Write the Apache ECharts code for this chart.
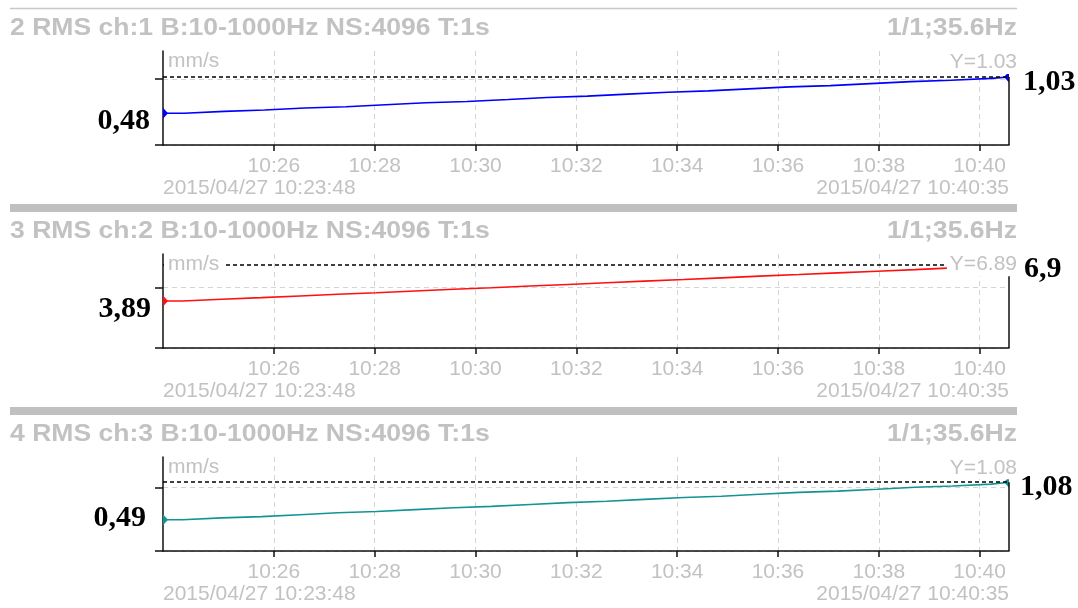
<!DOCTYPE html>
<html>
<head>
<meta charset="utf-8">
<title>RMS trend</title>
<script src="https://cdn.jsdelivr.net/npm/echarts@6/dist/echarts.min.js"></script>
<style>
  html, body { margin: 0; padding: 0; background: #ffffff; }
  #chart { width: 1078px; height: 608px; }
</style>
</head>
<body>
<div id="chart"></div>
<script>
// ---- data -------------------------------------------------------------
const recordDay = '2015/04/27';
const startTime = '10:23:48';
const endTime = '10:40:35';
const tickTimes = ['10:26', '10:28', '10:30', '10:32', '10:34', '10:36', '10:38', '10:40'];

const panelTitles = [
  '2 RMS ch:1 B:10-1000Hz NS:4096 T:1s',
  '3 RMS ch:2 B:10-1000Hz NS:4096 T:1s',
  '4 RMS ch:3 B:10-1000Hz NS:4096 T:1s'
];
const cursorInfo = '1/1;35.6Hz';
const unitName = 'mm/s';

const yTicks = [[0, 1], [0, 5], [0, 1]];
const yMax = [1.424, 7.77, 1.476];

// channel 1 (blue)
const times1 = ['10:23:48', '10:24:13', '10:25:01', '10:25:49', '10:26:37', '10:27:26', '10:28:13', '10:29:01',
  '10:29:50', '10:30:39', '10:31:25', '10:32:13', '10:33:01', '10:33:49', '10:34:37', '10:35:25', '10:36:14',
  '10:37:02', '10:37:50', '10:38:38', '10:39:26', '10:40:14', '10:40:35'];
const values1 = [0.48, 0.51, 0.53, 0.56, 0.58, 0.61, 0.64, 0.66, 0.69, 0.72, 0.74, 0.77, 0.80, 0.82, 0.85,
  0.88, 0.90, 0.93, 0.96, 0.98, 1.01, 1.03, 1.03];

// channel 2 (red)
const times2 = ['10:23:48', '10:24:11', '10:24:58', '10:25:45', '10:26:31', '10:27:16', '10:28:02', '10:28:48',
  '10:29:34', '10:30:19', '10:31:05', '10:31:50', '10:32:36', '10:33:21', '10:34:08', '10:34:53', '10:35:38',
  '10:36:25', '10:37:11', '10:37:58', '10:38:43', '10:39:28', '10:40:14', '10:40:35'];
const values2 = [3.89, 4.03, 4.16, 4.30, 4.44, 4.57, 4.71, 4.85, 4.98, 5.12, 5.25, 5.39, 5.53, 5.66, 5.80,
  5.94, 6.07, 6.21, 6.35, 6.48, 6.62, 6.75, 6.89, 6.89];

// channel 3 (teal)
const times3 = ['10:23:48', '10:24:11', '10:24:58', '10:25:45', '10:26:31', '10:27:16', '10:28:02', '10:28:48',
  '10:29:34', '10:30:19', '10:31:05', '10:31:50', '10:32:36', '10:33:21', '10:34:08', '10:34:53', '10:35:38',
  '10:36:25', '10:37:11', '10:37:58', '10:38:43', '10:39:28', '10:40:14', '10:40:35'];
const values3 = [0.49, 0.52, 0.54, 0.57, 0.60, 0.62, 0.65, 0.68, 0.70, 0.73, 0.76, 0.78, 0.81, 0.84, 0.86,
  0.89, 0.92, 0.94, 0.97, 1.00, 1.02, 1.05, 1.08, 1.08];

const startNotes = ['0,48', '3,89', '0,49'];
const endNotes = ['1,03', '6,9', '1,08'];

// ---- layout & style -----------------------------------------------------
const channels = [
  { times: times1, values: values1, color: '#0000ff' },
  { times: times2, values: values2, color: '#ff1010' },
  { times: times3, values: values3, color: '#139494' }
];
const PANEL_STEP = 203;
const GRID_TOP = 51;
const GRID_H = 94;
const GRID_LEFT = 163;
const GRID_RIGHT = 69;
const GRAY = '#c2c2c2';
const SANS = '"Liberation Sans", Arial, sans-serif';
const SERIF = '"Liberation Serif", "Times New Roman", serif';
const leftNoteDist = [13, 12, 17];
const leftNoteDy = [8, 8, -2];
const rightNoteDist = [14, 15, 11];
const rightNoteDy = [5, 5, 5];

// clock time on the recording day -> milliseconds (local time)
function ts(hmsText) {
  const p = hmsText.split(':').map(Number);
  return new Date(2015, 3, 27, p[0], p[1], p[2] || 0).getTime();
}
function pad(n) { return String(n).padStart(2, '0'); }
function hm(v) { const d = new Date(v); return pad(d.getHours()) + ':' + pad(d.getMinutes()); }
function hms(v) { const d = new Date(v); return hm(v) + ':' + pad(d.getSeconds()); }

const tMin = ts(startTime);
const tMax = ts(endTime);
const tickValues = tickTimes.map(ts);

const grids = [], xAxes = [], yAxes = [], series = [], graphics = [];

graphics.push({
  type: 'line', z: 100,
  shape: { x1: 10, y1: 8.5, x2: 1017, y2: 8.5 },
  style: { stroke: '#c8c8c8', lineWidth: 1.5 }
});

channels.forEach((ch, i) => {
  const off = i * PANEL_STEP;
  grids.push({ left: GRID_LEFT, right: GRID_RIGHT, top: GRID_TOP + off, height: GRID_H });

  const axisLineStyle = { color: '#111', width: 1.5 };

  // clock axis with ticks and vertical grid
  xAxes.push({
    gridIndex: i, type: 'value', min: tMin, max: tMax, scale: true,
    axisLine: { show: true, onZero: false, lineStyle: axisLineStyle },
    axisTick: { show: true, length: 6, inside: false, customValues: tickValues, lineStyle: axisLineStyle },
    axisLabel: {
      show: true, customValues: tickValues, formatter: (v) => hm(v),
      color: GRAY, fontSize: 21, fontFamily: SANS, margin: 11
    },
    splitLine: { show: true, lineStyle: { color: '#d4d4d4', type: [5, 4], width: 1 } }
  });
  // date stamps of the first and last sample
  xAxes.push({
    gridIndex: i, type: 'value', min: tMin, max: tMax, scale: true, position: 'bottom',
    axisLine: { show: false, onZero: false }, axisTick: { show: false }, splitLine: { show: false },
    axisLabel: {
      show: true, customValues: [tMin, tMax],
      formatter: (v) => recordDay + ' ' + hms(v),
      alignMinLabel: 'left', alignMaxLabel: 'right',
      color: GRAY, fontSize: 21, fontFamily: SANS, margin: 33
    }
  });

  yAxes.push({
    gridIndex: i, type: 'value', min: 0, max: yMax[i],
    axisLine: { show: true, onZero: false, lineStyle: axisLineStyle },
    axisTick: { show: true, length: 8, inside: false, customValues: yTicks[i], lineStyle: axisLineStyle },
    axisLabel: { show: false },
    splitLine: { show: true, lineStyle: { color: '#d4d4d4', type: [5, 4], width: 1 } }
  });

  const n = ch.times.length;
  const lastVal = ch.values[n - 1];
  const data = ch.times.map((t, k) => {
    const item = { value: [ts(t), ch.values[k]] };
    if (k === 0 || k === n - 1) {
      const first = k === 0;
      item.symbol = first ? 'path://M0,0L10,5L0,10Z' : 'path://M10,0L0,5L10,10Z';
      item.symbolSize = [5, 11];
      item.symbolOffset = [first ? 2.5 : -2.5, 0];
      item.label = {
        show: true,
        position: first ? 'left' : 'right',
        distance: first ? leftNoteDist[i] : rightNoteDist[i],
        offset: [0, first ? leftNoteDy[i] : rightNoteDy[i]],
        formatter: first ? startNotes[i] : endNotes[i],
        color: '#000', fontFamily: SERIF, fontWeight: 'bold', fontSize: 30
      };
    }
    return item;
  });

  series.push({
    type: 'line', xAxisIndex: 2 * i, yAxisIndex: i,
    step: 'end', symbol: 'none', showSymbol: true, silent: true,
    lineStyle: { color: ch.color, width: 1.6 },
    itemStyle: { color: ch.color },
    data: data,
    markLine: {
      symbol: 'none', silent: true, animation: false, precision: 2,
      data: [
        {
          yAxis: lastVal,
          lineStyle: { color: '#000', type: [4, 3], width: 1.5 },
          label: {
            show: true,
            position: i === 1 ? 'insideEnd' : 'insideEndTop',
            distance: [-8, i === 1 ? 0 : 3],
            formatter: (p) => 'Y=' + p.value,
            color: GRAY, fontSize: 21, fontFamily: SANS,
            backgroundColor: '#ffffff', padding: [1, 0, 1, 3]
          }
        },
        [
          { coord: [tMax, 0], lineStyle: { color: '#111', type: 'solid', width: 1.5 }, label: { show: false } },
          { coord: [tMax, lastVal] }
        ]
      ]
    }
  });

  // header of the panel
  graphics.push({
    type: 'text', x: 10, y: 28.5 + off, scaleX: 1.13, z: 100,
    style: { text: panelTitles[i], fill: GRAY, font: 'bold 23.5px ' + SANS, align: 'left', verticalAlign: 'middle' }
  });
  graphics.push({
    type: 'text', x: 1017, y: 28.5 + off, scaleX: 1.13, z: 100,
    style: { text: cursorInfo, fill: GRAY, font: 'bold 23.5px ' + SANS, align: 'right', verticalAlign: 'middle' }
  });
  // unit caption inside the plot
  graphics.push({
    type: 'text', x: GRID_LEFT + 1, y: GRID_TOP + off, z: 100,
    style: {
      text: unitName, fill: GRAY, font: '21px ' + SANS, align: 'left', verticalAlign: 'top',
      backgroundColor: '#ffffff', padding: [0, 4, 0, 4]
    }
  });
  // separator bar below the panel
  if (i < channels.length - 1) {
    graphics.push({
      type: 'rect', z: 100,
      shape: { x: 10, y: 204 + off, width: 1007, height: 8 },
      style: { fill: '#c0c0c0' }
    });
  }
});

const chart = echarts.init(document.getElementById('chart'), null, { renderer: 'canvas' });
chart.setOption({
  animation: false,
  backgroundColor: '#ffffff',
  grid: grids,
  xAxis: xAxes,
  yAxis: yAxes,
  series: series,
  graphic: graphics
});
</script>
</body>
</html>
